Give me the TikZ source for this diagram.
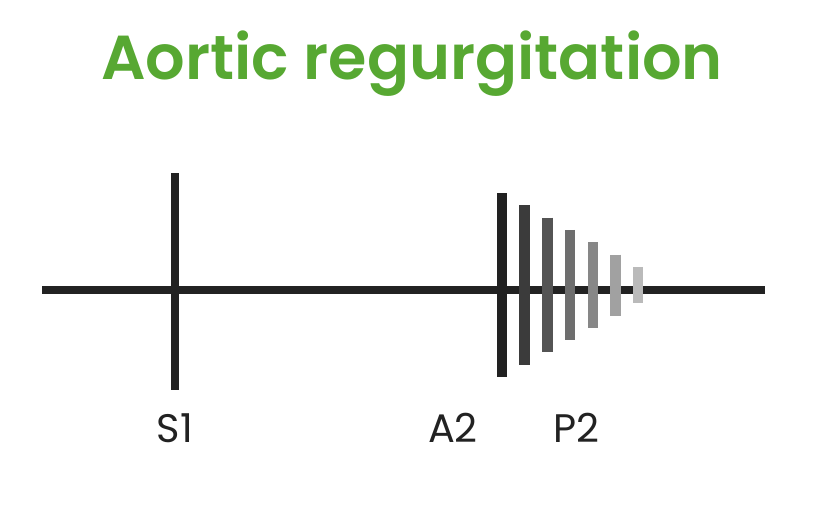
\documentclass[tikz,border=0pt]{standalone}
\usepackage{fontspec}
\setmainfont{Poppins}[BoldFont={Poppins SemiBold}]
\usepackage{tikz}
\usetikzlibrary{calc}
\definecolor{baslikYesil}{HTML}{57A832}
\definecolor{koyuGri}{HTML}{222222}
\tikzset{
  sesCizgi/.style={koyuGri,line width=8*0.03cm},
  etiket/.style={koyuGri,font=\fontsize{34}{38}\selectfont}
}
\begin{document}
\begin{tikzpicture}[x=0.03cm,y=-0.03cm]
\useasboundingbox (0,0) rectangle (834,521);
\node[baslikYesil,font=\fontsize{53}{58}\selectfont\bfseries] (baslik) at (412,64) {Aortic regurgitation};
% zaman ekseni
\coordinate (sol) at (42,290);
\coordinate (sag) at (765,290);
\draw[sesCizgi] (sol)--(sag);
\draw[sesCizgi] (175,173)--(175,390); % S1
% A2 ve uzayan ufuflu
\foreach \i in {0,...,6}
  \draw[black!\the\numexpr87-10*\i\relax,line width=10.5*0.03cm]
    ({502+22.7*\i},{285-92+12.3*\i})--({502+22.7*\i},{285+92-12.3*\i});
\node[etiket] (s1) at (175,428) {S1};
\node[etiket] (a2) at (453,428) {A2};
\node[etiket] (p2) at (576,428) {P2};
\end{tikzpicture}
\end{document}
